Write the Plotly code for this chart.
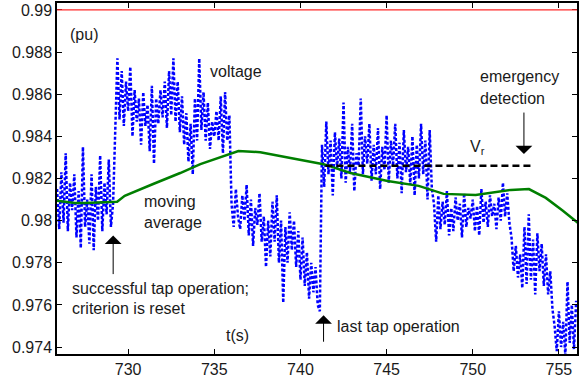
import numpy as np
import plotly.graph_objects as go

# Voltage samples (pu), 0.125 s apart starting at t = 725.875 s
volt_t0 = 725.875
volt_dt = 0.125
volt_a = [0.9815, 0.9796, 0.9823, 0.9799, 0.9832, 0.9795, 0.9818, 0.9805, 0.9822, 0.9792,
          0.9814, 0.9787, 0.9835, 0.9797, 0.9810, 0.9789, 0.9822, 0.9786, 0.9816, 0.9800,
          0.9831, 0.9795, 0.9818, 0.9803, 0.9829, 0.9797, 0.9808]
volt_b = [0.9842, 0.9877, 0.9848, 0.9871, 0.9845, 0.9866, 0.9852, 0.9873, 0.9840, 0.9862,
          0.9847, 0.9858, 0.9836, 0.9861, 0.9845, 0.9855, 0.9833, 0.9864, 0.9827, 0.9858,
          0.9846, 0.9862, 0.9849, 0.9866, 0.9844, 0.9871, 0.9850, 0.9877, 0.9847, 0.9866,
          0.9842, 0.9859, 0.9836, 0.9851, 0.9828, 0.9846, 0.9822, 0.9858, 0.9838, 0.9877,
          0.9843, 0.9861, 0.9838, 0.9856, 0.9834, 0.9847, 0.9840, 0.9852, 0.9838, 0.9859,
          0.9832, 0.9861, 0.9838, 0.9850]
volt_c = [0.9808, 0.9797, 0.9815, 0.9802, 0.9796, 0.9812, 0.9800, 0.9817, 0.9793, 0.9810,
          0.9788, 0.9806, 0.9798, 0.9813, 0.9790, 0.9802, 0.9778, 0.9800, 0.9783, 0.9809,
          0.9790, 0.9812, 0.9780, 0.9800, 0.9761, 0.9797, 0.9780, 0.9804, 0.9786, 0.9800,
          0.9778, 0.9795, 0.9772, 0.9792, 0.9769, 0.9785, 0.9763, 0.9780, 0.9766, 0.9778,
          0.9760, 0.9757]
volt_d = [0.9836, 0.9816, 0.9847, 0.9822, 0.9838, 0.9812, 0.9842, 0.9825, 0.9839, 0.9820,
          0.9856, 0.9818, 0.9835, 0.9823, 0.9846, 0.9814, 0.9832, 0.9826, 0.9858, 0.9822,
          0.9840, 0.9827, 0.9846, 0.9819, 0.9836, 0.9822, 0.9844, 0.9815, 0.9835, 0.9824,
          0.9850, 0.9818, 0.9838, 0.9826, 0.9846, 0.9820, 0.9837, 0.9813, 0.9843, 0.9823,
          0.9835, 0.9817, 0.9840, 0.9812, 0.9836, 0.9820, 0.9846, 0.9822, 0.9838, 0.9810,
          0.9843, 0.9815]
volt_e = [0.9808, 0.9790, 0.9812, 0.9796, 0.9809, 0.9798, 0.9814, 0.9793, 0.9806, 0.9795,
          0.9811, 0.9800, 0.9808, 0.9792, 0.9813, 0.9797, 0.9806, 0.9801, 0.9810, 0.9795,
          0.9807, 0.9793, 0.9815, 0.9799, 0.9809, 0.9797, 0.9812, 0.9802, 0.9808, 0.9796,
          0.9811, 0.9800, 0.9818, 0.9802, 0.9813, 0.9799]
volt_f = [0.9792, 0.9776, 0.9788, 0.9773, 0.9784, 0.9768, 0.9797, 0.9770, 0.9803, 0.9772,
          0.9791, 0.9765, 0.9794, 0.9776, 0.9789, 0.9769, 0.9784, 0.9765, 0.9776, 0.9758]
volt_g = [0.9750, 0.9738, 0.9757, 0.9740, 0.9752, 0.9736, 0.9771, 0.9742, 0.9760, 0.9739,
          0.9762]

# Moving average of the voltage
avg_t = [725.87, 726.9, 727.5, 729.36, 729.8, 730.7, 731.45, 733.02, 734.19, 736.4,
         737.67, 739.42, 741.34, 742.9, 745.06, 746.86, 748.31, 750.17, 751.34, 752.21,
         753.26, 754.24, 755.23, 756.1]
avg_v = [0.98094, 0.98084, 0.98084, 0.9809, 0.98118, 0.98150, 0.98174, 0.98226, 0.98268,
         0.98330, 0.98325, 0.98297, 0.98268, 0.98226, 0.98188, 0.98165, 0.98127, 0.98122,
         0.98136, 0.98146, 0.98150, 0.98108, 0.98047, 0.97990]

# Reference level V_r
vr_t = [741.45, 753.5]
vr_v = [0.9826, 0.9826]

# Upper limit
limit_v = 0.99

x_ticks = [730, 735, 740, 745, 750, 755]
y_ticks = [0.974, 0.976, 0.978, 0.98, 0.982, 0.984, 0.986, 0.988, 0.99]

volt_v = volt_a + volt_b + volt_c + volt_d + volt_e + volt_f + volt_g
volt_t = volt_t0 + volt_dt * np.arange(len(volt_v))

FONT = "Liberation Sans, Arial, sans-serif"

fig = go.Figure()
fig.add_trace(go.Scatter(x=volt_t, y=volt_v, mode="lines",
                         line=dict(color="#0000ff", width=2.5, dash="3px,2px")))
fig.add_trace(go.Scatter(x=avg_t, y=avg_v, mode="lines",
                         line=dict(color="#007f00", width=2.5)))
fig.add_trace(go.Scatter(x=vr_t, y=vr_v, mode="lines",
                         line=dict(color="black", width=2.5, dash="7px,4px")))

fig.add_shape(type="line", xref="paper", x0=0, x1=1, yref="y", y0=limit_v, y1=limit_v,
              line=dict(color="#ff2a2a", width=1.3), layer="above")

texts = [
    ("(pu)", 726.5, 0.98882),
    ("voltage", 734.62, 0.98707),
    ("emergency", 750.33, 0.98684),
    ("detection", 750.33, 0.98580),
    ("V<sub>r</sub>", 749.75, 0.98345),
    ("moving", 730.79, 0.98089),
    ("average", 730.79, 0.97990),
    ("successful tap operation;", 726.6, 0.97678),
    ("criterion is reset", 726.6, 0.97584),
    ("t(s)", 735.56, 0.97457),
    ("last tap operation", 742.0, 0.97499),
]
for txt, tx, ty in texts:
    fig.add_annotation(x=tx, y=ty, text=txt, showarrow=False, xanchor="left",
                       yanchor="middle", font=dict(family=FONT, size=16, color="#1a1a1a"))

arrows = [
    (752.97, 0.98316, 0, -43),
    (729.13, 0.97929, 0, 40),
    (741.34, 0.97551, 0, 28),
]
for hx, hy, dx, dy in arrows:
    fig.add_annotation(x=hx, y=hy, ax=dx, ay=dy, text="", showarrow=True,
                       arrowhead=1, arrowsize=2.8, arrowwidth=1, arrowcolor="black")

fig.update_layout(
    width=585, height=379,
    margin=dict(l=57, r=8, t=1, b=25),
    paper_bgcolor="white", plot_bgcolor="white",
    showlegend=False,
    font=dict(family=FONT, size=16, color="#1a1a1a"),
)
fig.update_xaxes(range=[725.87, 756.05], tickvals=x_ticks, ticks="inside", ticklen=5,
                 showline=True, linecolor="black", linewidth=1.5, mirror="ticks",
                 showgrid=False, zeroline=False, tickcolor="black")
fig.update_yaxes(range=[0.97367, 0.99033], tickvals=y_ticks, ticks="inside", ticklen=5,
                 showline=True, linecolor="black", linewidth=1.5, mirror="ticks",
                 showgrid=False, zeroline=False, tickcolor="black")

fig.write_html("out.html")
